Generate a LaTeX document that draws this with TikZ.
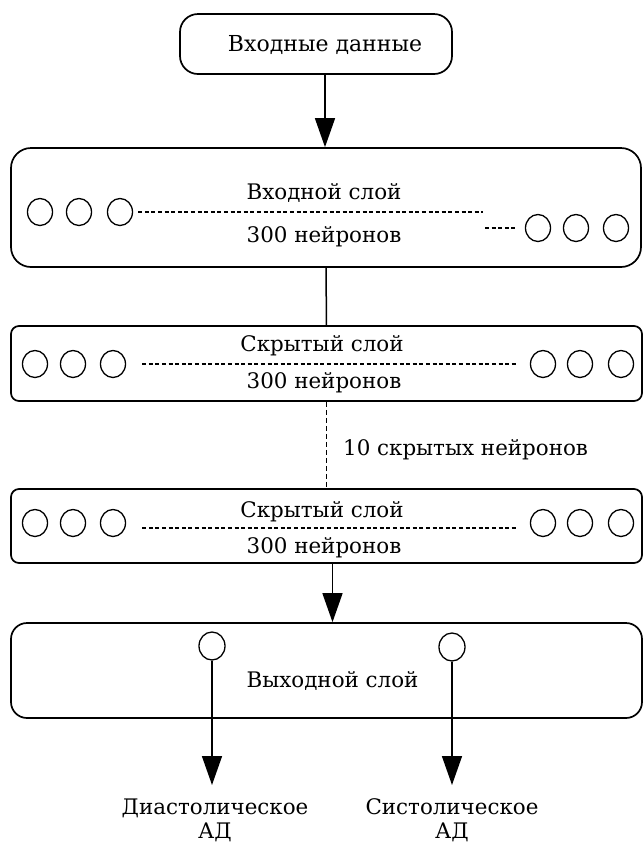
\documentclass[tikz,border=0pt]{standalone}
\usepackage{fontspec}
\setmainfont{DejaVu Serif}
\usepackage{tikz}
\usetikzlibrary{arrows.meta,shapes.geometric}

\begin{document}
\begin{tikzpicture}[x=0.5pt,y=-0.5pt,font=\fontsize{10.7}{12}\selectfont,
  layer/.style={draw,line width=0.85pt,rounded corners=#1,inner sep=0pt},
  neuron/.style={draw,ellipse,line width=0.65pt,inner sep=0pt,minimum width=12.5pt,minimum height=13.5pt},
  linkdash/.style={line width=0.65pt,dash pattern=on 2pt off 1.3pt},
  vdash/.style={line width=0.65pt,dash pattern=on 2.5pt off 1.5pt},
  arr/.style={line width=0.75pt,-{Triangle[length=14.5pt,width=10pt]}}]

\useasboundingbox (0,0) rectangle (643,843);

% ===================== input data =====================
\node[layer=9pt, minimum width=136pt, minimum height=30pt] (src) at (316,44) {};
\node[anchor=base, font=\fontsize{11}{13}\selectfont] (srct) at (325,51) {Входные данные};

% ===================== input layer =====================
\node[layer=10pt, minimum width=315pt, minimum height=59.5pt] (L0) at (326,207.5) {};
\node[anchor=base] (L0a) at (324,199) {Входной слой};
\node[anchor=base] (L0b) at (324,242) {300 нейронов};
\foreach \x [count=\i] in {40,79,120}
  \node[neuron] (a\i) at (\x,212) {};
\foreach \x [count=\i] in {538,576,616}
  \node[neuron] (b\i) at (\x,228) {};
\coordinate (a4) at (483,212);
\coordinate (b0) at (485,228);
\draw[linkdash, shorten <=2.5pt] (a3) -- (a4);
\draw[linkdash, shorten >=5pt] (b0) -- (b1);

% ===================== hidden layer 1 =====================
\node[layer=4pt, minimum width=315.5pt, minimum height=37.5pt] (L1) at (326.5,363.5) {};
\node[anchor=base] (L1a) at (322,351) {Скрытый слой};
\node[anchor=base] (L1b) at (324,388) {300 нейронов};
\foreach \x [count=\i] in {35,73,113}
  \node[neuron] (c\i) at (\x,364) {};
\foreach \x [count=\i] in {543,580,621}
  \node[neuron] (d\i) at (\x,364) {};
\draw[linkdash, shorten <=8pt, shorten >=6pt] (c3) -- (d1);

% ===================== hidden layer 2 =====================
\node[layer=4pt, minimum width=315.5pt, minimum height=37pt] (L2) at (326.5,526) {};
\node[anchor=base] (L2a) at (322,517) {Скрытый слой};
\node[anchor=base] (L2b) at (324,553) {300 нейронов};
\foreach \x [count=\i] in {35,73,113}
  \node[neuron] (e\i) at (\x,523) {};
\foreach \x [count=\i] in {543,580,621}
  \node[neuron] (f\i) at (\x,523) {};
\draw[linkdash, shorten <=8pt, shorten >=6pt]
  ([yshift=-2.5pt]e3.east) -- ([yshift=-2.5pt]f1.west);

% ===================== output layer =====================
\node[layer=8pt, minimum width=315.5pt, minimum height=47.5pt] (L3) at (326.5,670.5) {};
\node[anchor=base] (L3a) at (332.5,687) {Выходной слой};
\node[neuron, minimum width=13pt, minimum height=14pt] (o1) at (212,646) {};
\node[neuron, minimum width=13pt, minimum height=14pt] (o2) at (452,647) {};
\node[anchor=north, align=center, inner sep=0pt] (dia) at (215,798) {Диастолическое\\АД};
\node[anchor=north, align=center, inner sep=0pt] (sys) at (452,798) {Систолическое\\АД};

% ---- connections between layers ----
\draw[arr] (srct |- src.south) -- (srct |- L0.north);
\draw[line width=0.75pt] (L0.south) -- (L1.north);
\draw[vdash] (L1.south) -- (L2.north)
  node[pos=0.5, anchor=base west, inner sep=0pt, xshift=8pt, yshift=-5pt] (hid) {10 скрытых нейронов};
\draw[arr] ([xshift=3pt]L2.south) -- ([xshift=3pt]L3.north);
\draw[arr, shorten >=6.5pt] (o1) -- (o1 |- dia.north);
\draw[arr, shorten >=6.5pt] (o2) -- (o2 |- sys.north);

\end{tikzpicture}
\end{document}
